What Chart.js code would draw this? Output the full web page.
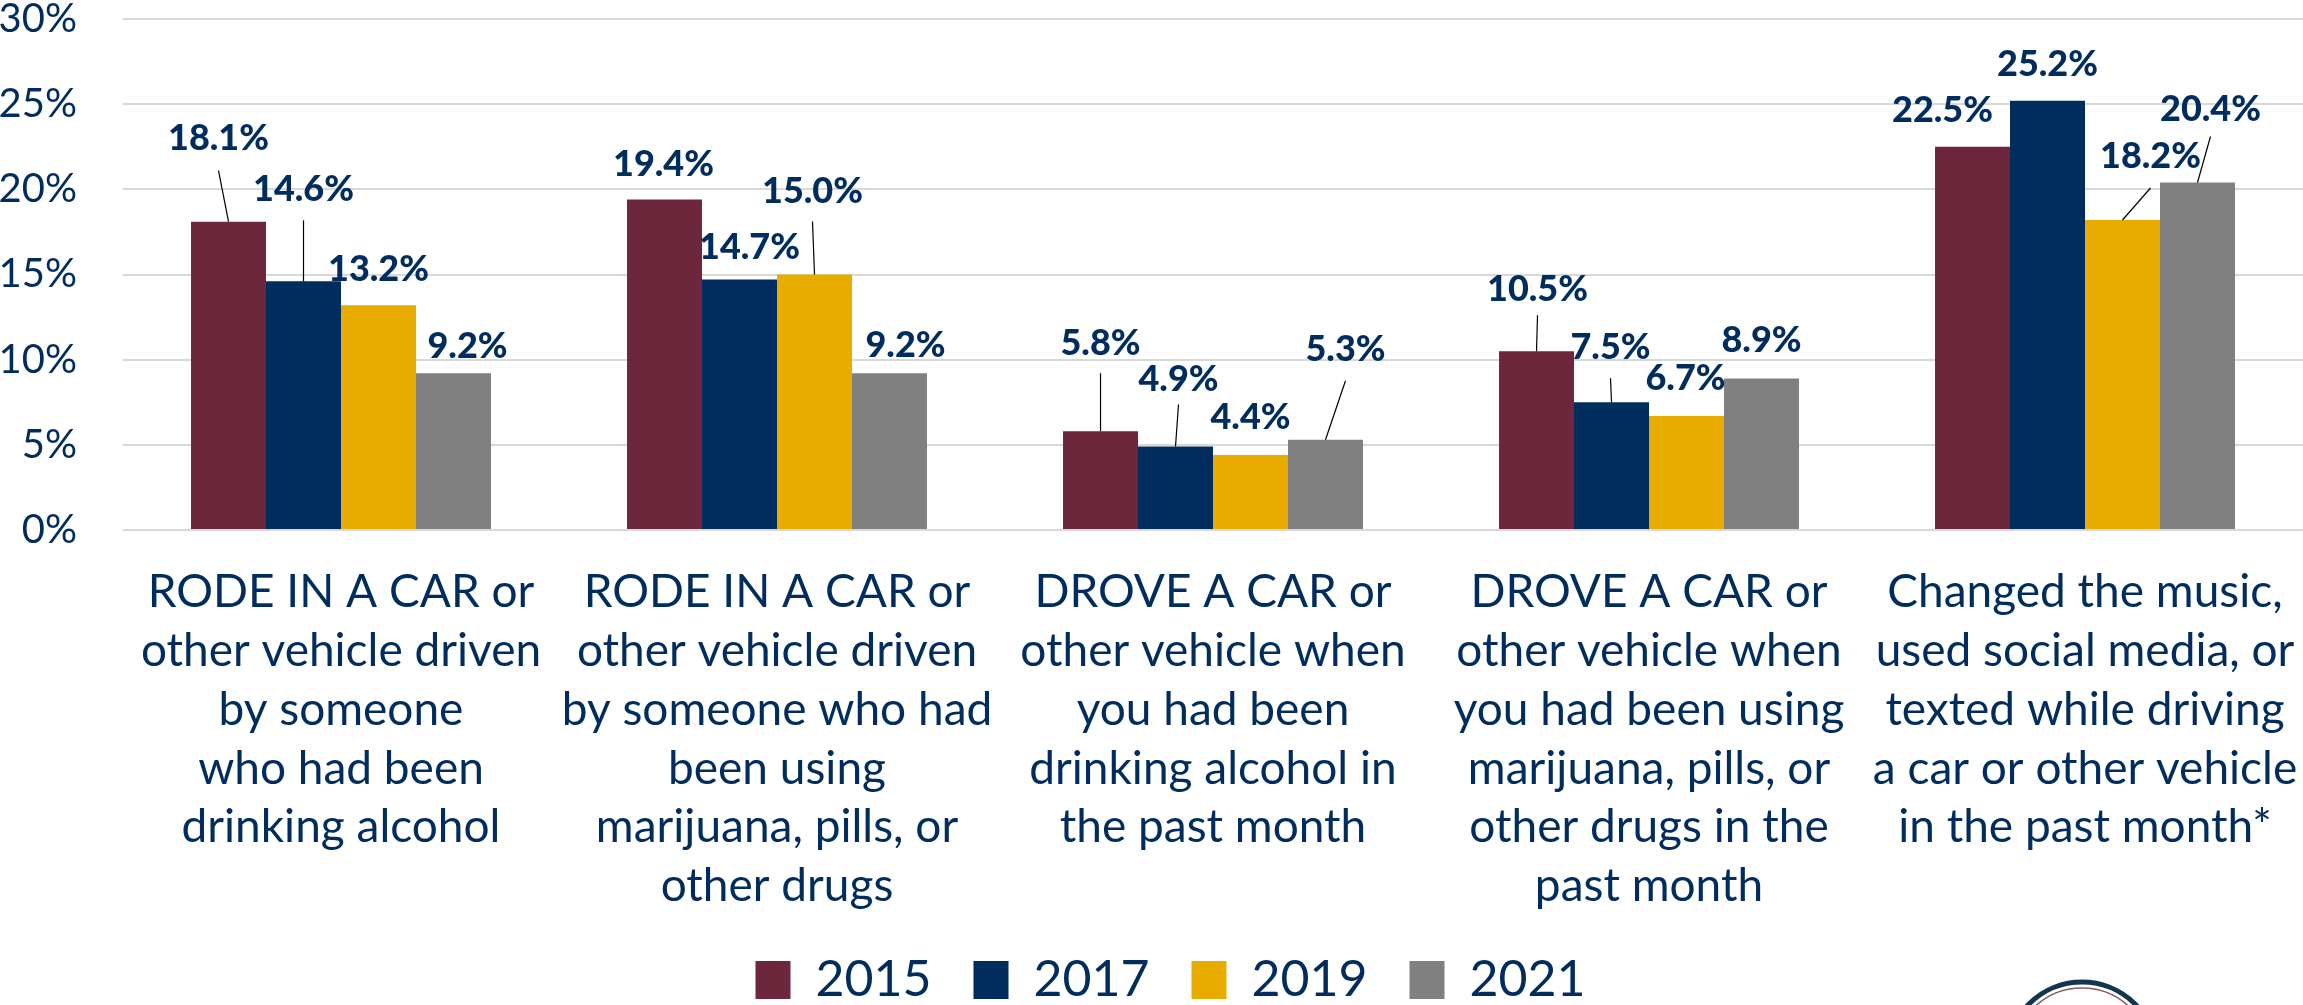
<!DOCTYPE html>
<html>
<head>
<meta charset="utf-8">
<style>
  html, body { margin: 0; padding: 0; background: #fff; overflow: hidden; }
  canvas { display: block; }
</style>
<script src="https://cdn.jsdelivr.net/npm/chart.js@4"></script>
</head>
<body>
<canvas id="chart" width="2303" height="1005"></canvas>
<script>
const categories = [
  ["RODE IN A CAR or", "other vehicle driven", "by someone", "who had been", "drinking alcohol"],
  ["RODE IN A CAR or", "other vehicle driven", "by someone who had", "been using", "marijuana, pills, or", "other drugs"],
  ["DROVE A CAR or", "other vehicle when", "you had been", "drinking alcohol in", "the past month"],
  ["DROVE A CAR or", "other vehicle when", "you had been using", "marijuana, pills, or", "other drugs in the", "past month"],
  ["Changed the music,", "used social media, or", "texted while driving", "a car or other vehicle", "in the past month*"],
];
const values2015 = [18.1, 19.4, 5.8, 10.5, 22.5];
const values2017 = [14.6, 14.7, 4.9, 7.5, 25.2];
const values2019 = [13.2, 15.0, 4.4, 6.7, 18.2];
const values2021 = [9.2, 9.2, 5.3, 8.9, 20.4];

const NAVY = "#002d5d";
const FONT = "Lato";

// label offset from top centre of the bar: dx, dy, gap to leader line (0 = no leader)
// per-category order is [2015, 2017, 2019, 2021]
const labelOffsets = [
  [[-10, -83, 32], [0, -92, 31], [0, -36, 0], [14, -27, 0]],
  [[-1, -35, 0], [10, -32, 0], [-2, -83, 30], [16, -28, 0]],
  [[0, -88, 30], [3, -67, 25], [0, -38, 0], [20, -90, 31]],
  [[1, -62, 26], [-1, -55, 31], [-1, -37, 0], [0, -38, 0]],
  [[-30, -36, 0], [0, -36, 0], [28, -64, 32], [13, -73, 27]],
];

const dataLabels = {
  id: "dataLabels",
  afterDatasetsDraw(chart) {
    const ctx = chart.ctx;
    ctx.save();
    ctx.font = `900 36px ${FONT}`;
    ctx.textAlign = "center";
    ctx.textBaseline = "middle";
    chart.data.datasets.forEach((ds, d) => {
      chart.getDatasetMeta(d).data.forEach((bar, i) => {
        const [dx, dy, gap] = labelOffsets[i][d];
        const lx = bar.x + dx;
        const ly = bar.y + dy;
        if (gap) {
          ctx.beginPath();
          ctx.moveTo(lx, ly + gap);
          ctx.lineTo(bar.x, bar.y);
          ctx.strokeStyle = "#000";
          ctx.lineWidth = 1.2;
          ctx.stroke();
        }
        ctx.fillStyle = NAVY;
        ctx.fillText(ds.data[i].toFixed(1) + "%", lx, ly);
      });
    });
    ctx.restore();
  },
};

// legend sits a bit right of centre in the original
const legendShift = {
  id: "legendShift",
  afterLayout(chart) {
    chart.legend.left += 38;
  },
};

// top of the seal that is cut off at the bottom edge
const seal = {
  id: "seal",
  afterDraw(chart) {
    const ctx = chart.ctx;
    ctx.save();
    ctx.beginPath();
    ctx.arc(2082, 1057, 75, 0, Math.PI * 2);
    ctx.strokeStyle = "#12364f";
    ctx.lineWidth = 5;
    ctx.stroke();
    ctx.beginPath();
    ctx.arc(2082, 1057, 69, 0, Math.PI * 2);
    ctx.strokeStyle = "#8a5a6a";
    ctx.lineWidth = 1.5;
    ctx.stroke();
    ctx.restore();
  },
};

new Chart(document.getElementById("chart").getContext("2d"), {
  type: "bar",
  data: {
    labels: categories,
    datasets: [
      { label: "2015", data: values2015, backgroundColor: "#6d273d" },
      { label: "2017", data: values2017, backgroundColor: NAVY },
      { label: "2019", data: values2019, backgroundColor: "#e8ab00" },
      { label: "2021", data: values2021, backgroundColor: "#808080" },
    ],
  },
  plugins: [dataLabels, legendShift, seal],
  options: {
    responsive: false,
    animation: false,
    layout: { padding: { top: 19, left: 0, right: 0, bottom: -10 } },
    datasets: { bar: { categoryPercentage: 0.688, barPercentage: 1 } },
    scales: {
      x: {
        grid: { display: false },
        border: { display: false },
        afterFit(scale) {
          scale.height = 383;
          scale.paddingLeft = 0;
          scale.paddingRight = 0;
        },
        ticks: {
          autoSkip: false,
          maxRotation: 0,
          minRotation: 0,
          padding: 25,
          color: NAVY,
          font: { family: FONT, size: 46, lineHeight: 1.278 },
        },
      },
      y: {
        min: 0,
        max: 30,
        grid: { color: "#d9d9d9", lineWidth: 2, drawTicks: false },
        border: { display: false },
        afterFit(scale) {
          scale.width = 123;
          scale.paddingTop = 0;
          scale.paddingBottom = 0;
        },
        ticks: {
          stepSize: 5,
          padding: 46,
          color: NAVY,
          font: { family: FONT, size: 40 },
          callback: (v) => v + "%",
        },
      },
    },
    plugins: {
      tooltip: { enabled: false },
      legend: {
        position: "bottom",
        labels: {
          boxWidth: 35,
          boxHeight: 38,
          padding: 42,
          color: NAVY,
          font: { family: FONT, size: 50 },
        },
      },
    },
  },
});
</script>
</body>
</html>
